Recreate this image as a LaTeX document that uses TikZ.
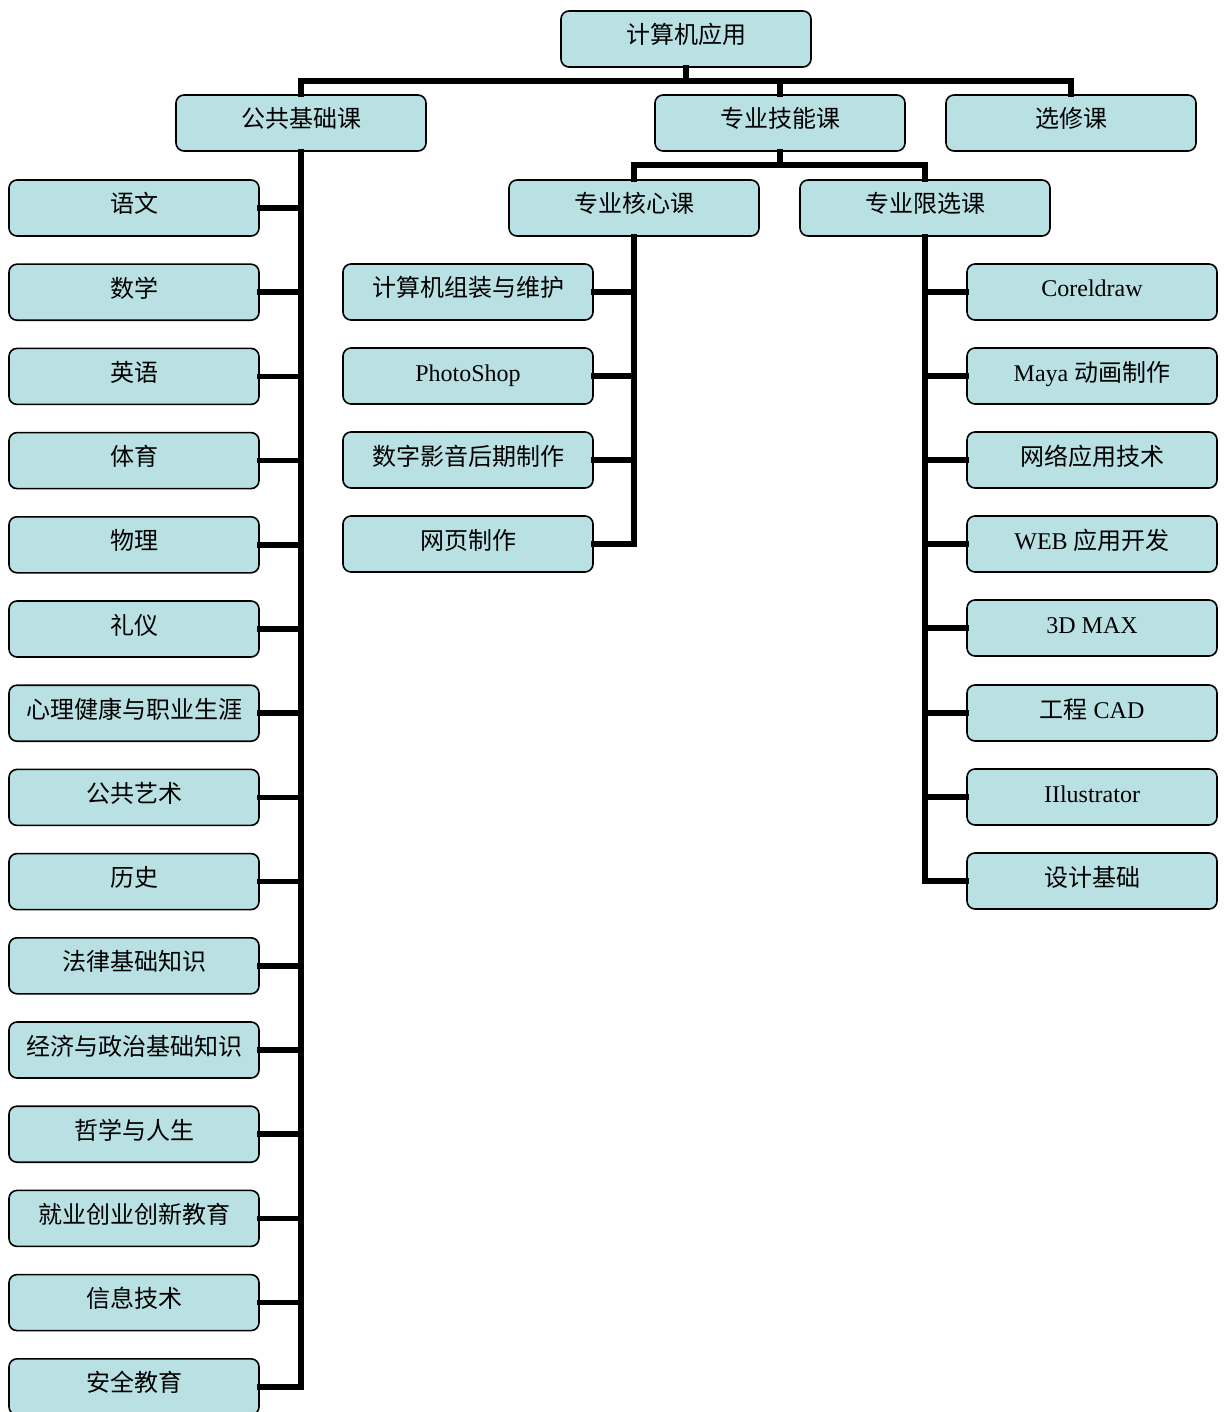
\documentclass[tikz,border=0pt]{standalone}
\usepackage{fontspec}
\setmainfont{Liberation Serif}
\newfontfamily\cjk{Noto Sans CJK SC}
\definecolor{boxfill}{RGB}{185,224,227}
\tikzset{
  box/.style={draw=black, line width=1.6pt, fill=boxfill, rounded corners=8pt,
    minimum width=250pt, minimum height=56pt, inner sep=0pt,
    text height=16pt, text depth=6pt,
    font=\fontsize{24}{28}\selectfont},
  conn/.style={draw=black, line width=5.5pt, line join=miter, line cap=rect},
}
\begin{document}
\begin{tikzpicture}[x=1pt,y=-1pt]
\useasboundingbox (0,0) rectangle (1223,1412);
\clip (0,0) rectangle (1223,1412);
\coordinate (b1) at (686,81);
\coordinate (b2) at (780,165);
\path
  (686,39) node[box] (root) {\cjk 计算机应用}
  (301,123) node[box] (pub) {\cjk 公共基础课}
  (780,123) node[box] (skill) {\cjk 专业技能课}
  (1071,123) node[box] (sel) {\cjk 选修课}
  (634,208) node[box] (core) {\cjk 专业核心课}
  (925,208) node[box] (lim) {\cjk 专业限选课};
% left column
\foreach \t [count=\i] in {语文,数学,英语,体育,物理,礼仪,心理健康与职业生涯,公共艺术,历史,法律基础知识,经济与政治基础知识,哲学与人生,就业创业创新教育,信息技术,安全教育}{
  \path (134,{208+84.2*(\i-1)}) node[box] (L\i) {\cjk \t};
}
% core column
\path (468,292) node[box] (C1) {\cjk 计算机组装与维护}
      (468,376) node[box] (C2) {PhotoShop}
      (468,460) node[box] (C3) {\cjk 数字影音后期制作}
      (468,544) node[box] (C4) {\cjk 网页制作};
% limited column
\path (1092,292) node[box] (R1) {Coreldraw}
      (1092,376) node[box] (R2) {Maya {\cjk 动画制作}}
      (1092,460) node[box] (R3) {\cjk 网络应用技术}
      (1092,544) node[box] (R4) {WEB {\cjk 应用开发}}
      (1092,628) node[box] (R5) {3D MAX}
      (1092,713) node[box] (R6) {{\cjk 工程} CAD}
      (1092,797) node[box] (R7) {IIlustrator}
      (1092,881) node[box] (R8) {\cjk 设计基础};
% connectors
\draw[conn] (root.south) -- (b1);
\draw[conn] (pub.north) |- (b1) -| (sel.north);
\draw[conn] (skill.north) -- (skill.north |- b1);
\draw[conn] (skill.south) -- (b2);
\draw[conn] (core.north) |- (b2) -| (lim.north);
\draw[conn] (pub.south) |- (L15.east);
\foreach \i in {1,...,14}{ \draw[conn] (L\i.east) -- (L\i.east -| pub.south); }
\draw[conn] (core.south) |- (C4.east);
\foreach \i in {1,2,3}{ \draw[conn] (C\i.east) -- (C\i.east -| core.south); }
\draw[conn] (lim.south) |- (R8.west);
\foreach \i in {1,...,7}{ \draw[conn] (R\i.west) -- (R\i.west -| lim.south); }
\end{tikzpicture}
\end{document}
